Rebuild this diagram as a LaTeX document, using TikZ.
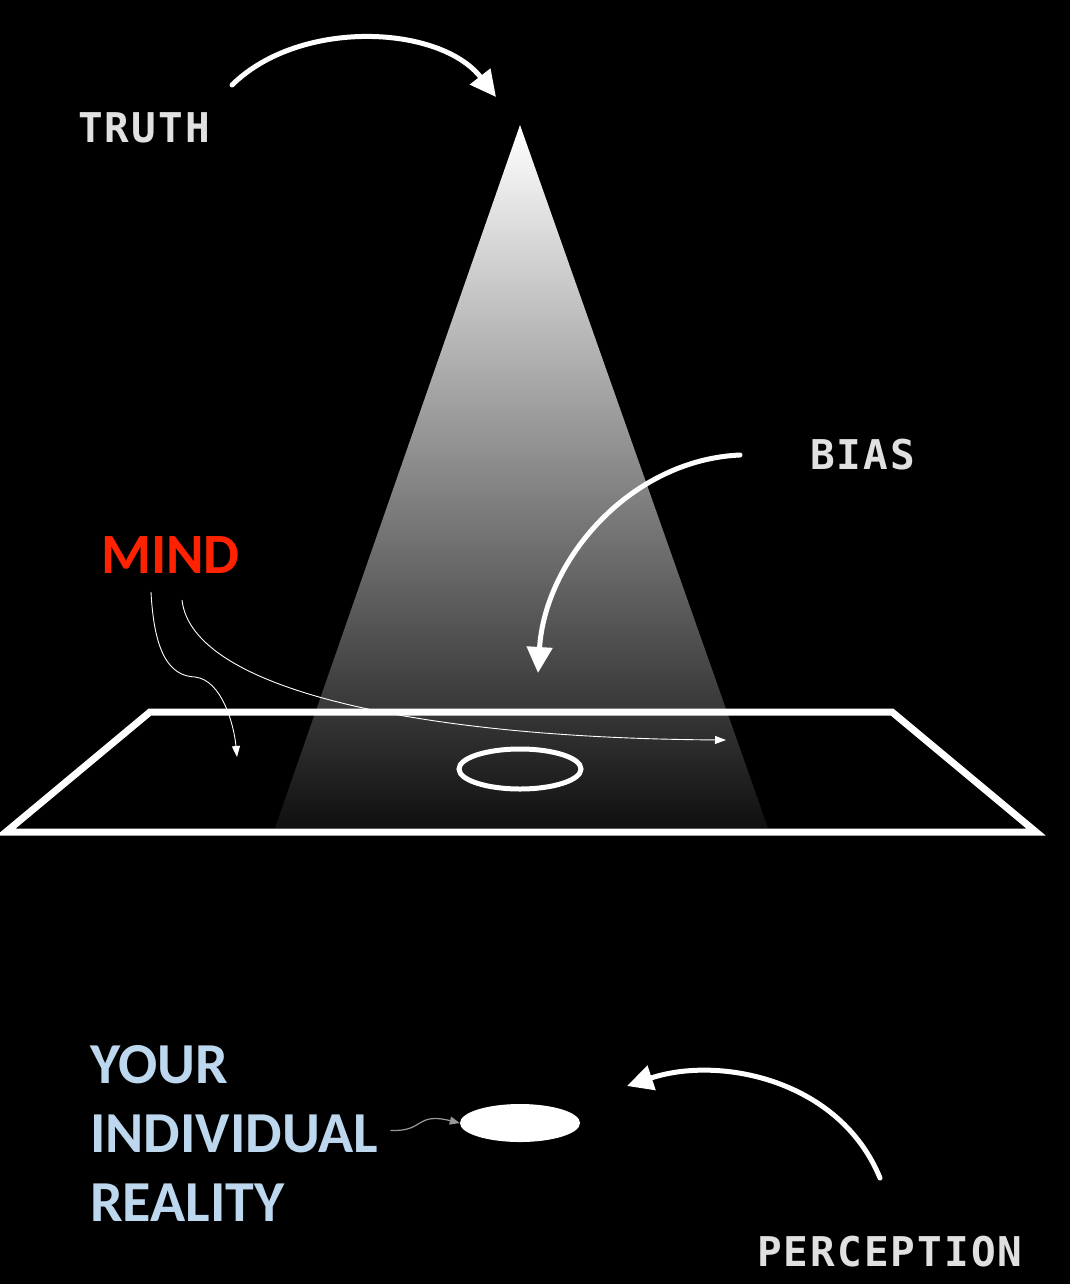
\documentclass[tikz,border=0pt]{standalone}
\usepackage{fontspec}
\usepackage{tikz}
\usetikzlibrary{arrows.meta,positioning,shapes.geometric,calc}
\newfontfamily\techfont{DejaVu Sans Mono}[LetterSpace=5]
\newfontfamily\calfont{Carlito}
\definecolor{mindred}{RGB}{255,34,0}
\definecolor{realblue}{RGB}{189,215,238}
\definecolor{labelgray}{gray}{0.88}

\begin{document}
\begin{tikzpicture}[x=1pt,y=-1pt,
        bigarrow/.style={white, line width=5pt, line cap=round, -{Triangle[length=26pt,width=25pt]}},
        thinarrow/.style={white, line width=0.9pt, -{Triangle[length=11pt,width=8pt]}},
        techlabel/.style={labelgray, inner sep=0pt, anchor=base west, font=\techfont\bfseries\fontsize{41}{41}\selectfont},
        reallabel/.style={realblue, inner sep=0pt, anchor=base west, font=\calfont\bfseries\fontsize{58}{58}\selectfont}]
        % Background
        \fill[black] (0,0) rectangle (1070,1284);
        \useasboundingbox (0,0) rectangle (1070,1284);
        % Light cone
        \shade[top color=white, bottom color=black!94!white] (520,125) -- (768,828) -- (275,828) -- cycle;
        % Platform
        \draw[white, line width=7pt, line join=miter] (150,712) -- (892,712) -- (1036,832) -- (6,832) -- cycle;
        \node[ellipse, draw=white, line width=5pt, minimum width=122pt, minimum height=40pt, inner sep=0pt] (ring) at (520,769) {};
        % Labels
        \node[techlabel] (truth) at (78,143) {TRUTH};
        \node[techlabel] (bias) at (810,469) {BIAS};
        \node[techlabel] (perception) at (757,1266) {PERCEPTION};
        \node[mindred, inner sep=0pt, anchor=base west, font=\calfont\bfseries\fontsize{57}{57}\selectfont] (mind) at (101,573) {MIND};
        \node[reallabel] (real1) at (90,1083) {YOUR};
        \node[reallabel] (real2) at (90,1152) {INDIVIDUAL};
        \node[reallabel] (real3) at (90,1221) {REALITY};
        % Reality
        \node[ellipse, fill=white, minimum width=120pt, minimum height=38pt, inner sep=0pt] (blob) at (520,1123) {};
        % Arrow ends
        \coordinate (truthstart) at (232,85);
        \coordinate (apex) at (496,97);
        \coordinate (biasstart) at (740,455);
        \coordinate (biasend) at (538,673);
        \coordinate (percstart) at (880,1178);
        \coordinate (percend) at (627,1086);
        \coordinate (mindA) at (151,592);
        \coordinate (mindB) at (182,600);
        \coordinate (floorA) at (237,757);
        \coordinate (floorB) at (726,740);
        % Arrows
        \draw[bigarrow] (truthstart) .. controls (300,18) and (440,25) .. (apex);
        \draw[bigarrow] (biasstart) .. controls (630,460) and (545,560) .. (biasend);
        \draw[bigarrow] (percstart) .. controls (840,1080) and (720,1055) .. (percend);
        \draw[thinarrow] (mindA) .. controls (154,650) and (168,676) .. (195,677) .. controls (222,680) and (234,725) .. (floorA);
        \draw[thinarrow] (mindB) .. controls (192,690) and (420,738) .. (floorB);
        \draw[gray!80, line width=1.2pt, -{Triangle[length=10pt,width=8pt]}] ($(real2.east)+(12,-3)$) .. controls (425,1132) and (415,1112) .. (blob.west);
\end{tikzpicture}
\end{document}
